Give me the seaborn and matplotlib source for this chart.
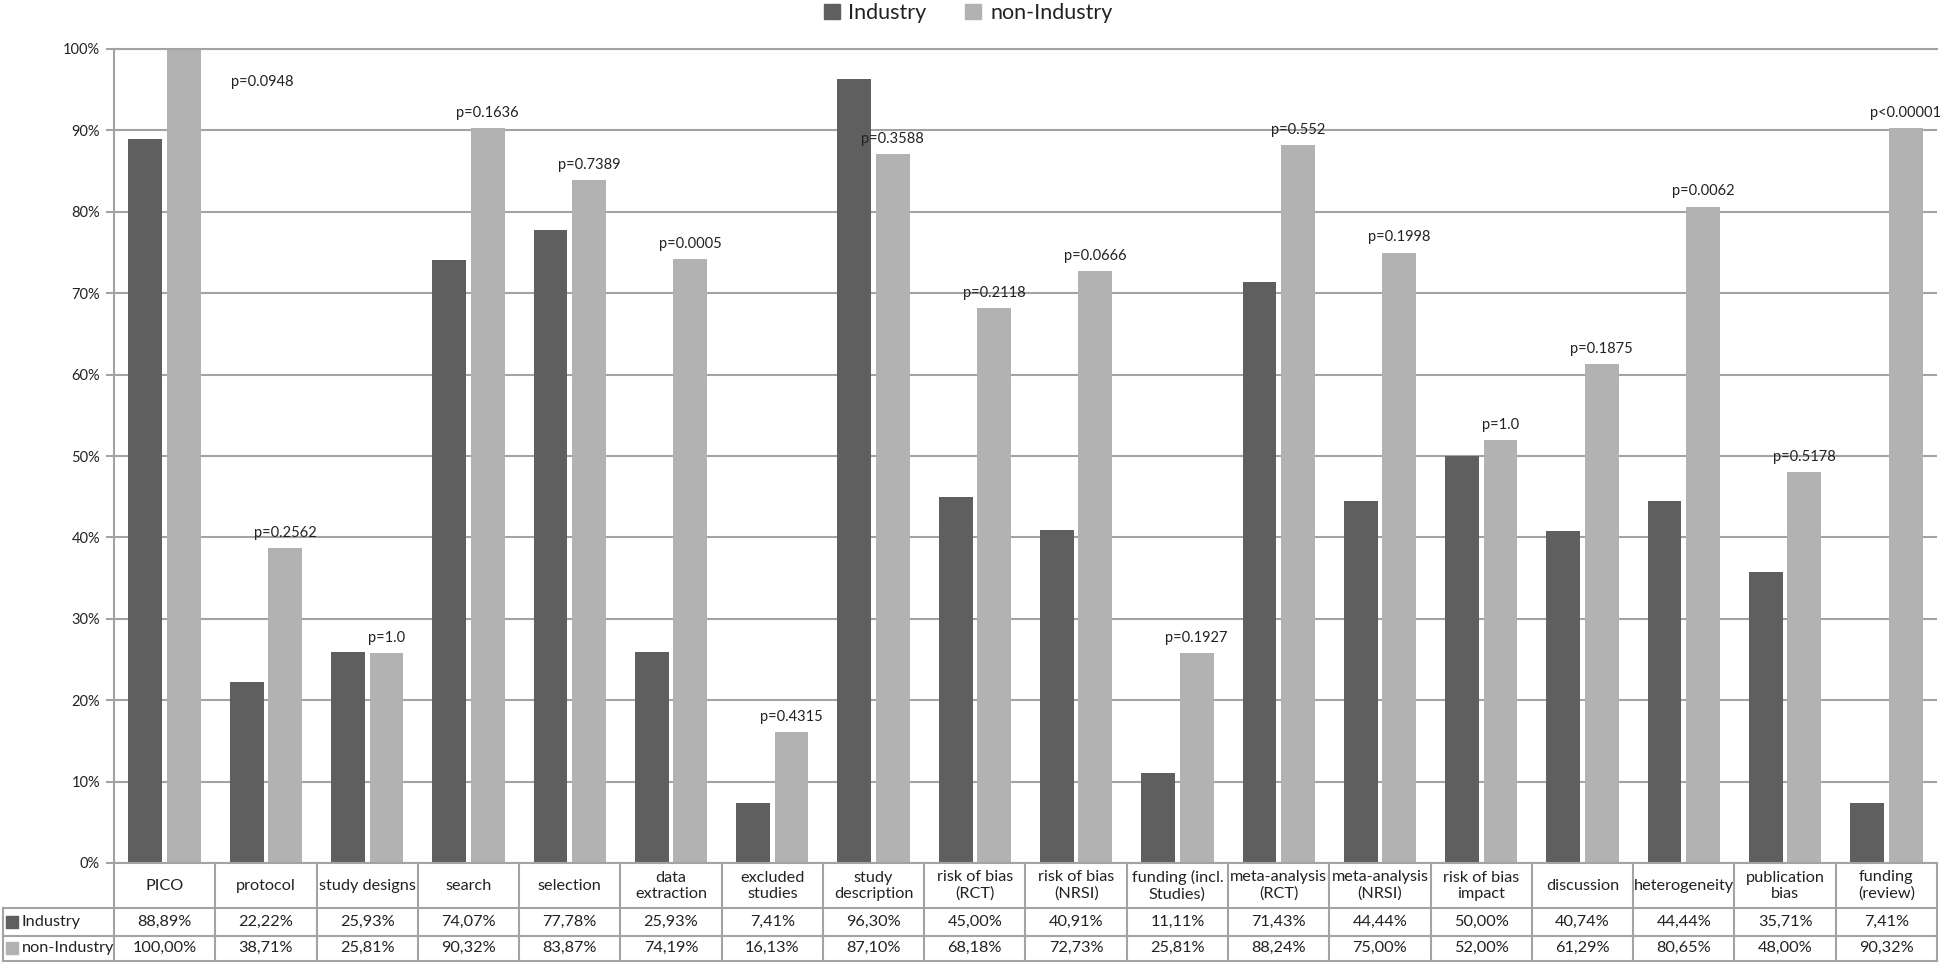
import numpy as np
import matplotlib
matplotlib.use("Agg")
import matplotlib.pyplot as plt
import pandas as pd
import seaborn as sns

categories = ["PICO", "protocol", "study designs", "search", "selection",
              "data\nextraction", "excluded\nstudies", "study\ndescription",
              "risk of bias\n(RCT)", "risk of bias\n(NRSI)", "funding (incl.\nStudies)",
              "meta-analysis\n(RCT)", "meta-analysis\n(NRSI)", "risk of bias\nimpact",
              "discussion", "heterogeneity", "publication\nbias", "funding\n(review)"]
industry = [88.89, 22.22, 25.93, 74.07, 77.78, 25.93, 7.41, 96.30, 45.00,
            40.91, 11.11, 71.43, 44.44, 50.00, 40.74, 44.44, 35.71, 7.41]
non_industry = [100.00, 38.71, 25.81, 90.32, 83.87, 74.19, 16.13, 87.10, 68.18,
                72.73, 25.81, 88.24, 75.00, 52.00, 61.29, 80.65, 48.00, 90.32]
p_values = ["p=0.0948", "p=0.2562", "p=1.0", "p=0.1636", "p=0.7389", "p=0.0005",
            "p=0.4315", "p=0.3588", "p=0.2118", "p=0.0666", "p=0.1927", "p=0.552",
            "p=0.1998", "p=1.0", "p=0.1875", "p=0.0062", "p=0.5178", "p<0.00001"]
groups = ["Industry", "non-Industry"]

dark = "#5f5f5f"
light = "#b2b2b2"
grid_c = "#a3a3a3"
txt_c = "#222222"

sns.set_style("white")
plt.rcParams['font.family'] = ['Lato', 'DejaVu Sans']

df = pd.DataFrame({
    "category": categories * 2,
    "value": industry + non_industry,
    "group": [groups[0]] * len(categories) + [groups[1]] * len(categories),
})

W, H = 1943, 964
fig = plt.figure(figsize=(W / 100, H / 100), dpi=100)
ax = fig.add_axes([114 / W, 1 - 863 / H, (1937 - 114) / W, (863 - 49) / H])
ax_t = fig.add_axes([114 / W, 1 - 961 / H, (1937 - 114) / W, (961 - 863) / H])

sns.barplot(data=df, x="category", y="value", hue="group", order=categories,
            hue_order=groups, palette=[dark, light], width=0.76, gap=0.12,
            errorbar=None, ax=ax, linewidth=0, legend=False)

ax.set_xlim(-0.5, len(categories) - 0.5)
ax.set_ylim(0, 100)
ax.set_yticks(np.arange(0, 101, 10))
ax.set_yticklabels([f"{v}%" for v in range(0, 101, 10)])
ax.set_xticks([])
ax.set_xlabel("")
ax.set_ylabel("")
ax.yaxis.grid(True, color=grid_c, lw=1.5)
ax.set_axisbelow(True)
for s in ["right", "bottom"]:
    ax.spines[s].set_visible(False)
for s in ["left", "top"]:
    ax.spines[s].set_color(grid_c)
    ax.spines[s].set_linewidth(1.5)
ax.tick_params(axis="y", direction="out", length=6, width=1.5, color=grid_c,
               labelsize=10.5, labelcolor=txt_c, left=True, pad=4)

# p-value labels above the non-Industry bars
for i, p in enumerate(p_values):
    if i == 0:
        ax.text(0.96, 95.9, p, ha="center", va="center", fontsize=10.5, color=txt_c)
    else:
        ax.text(i + 0.19, non_industry[i] + 1.0, p, ha="center", va="bottom",
                fontsize=10.5, color=txt_c)

# legend at top
handles = [plt.Rectangle((0, 0), 1, 1, color=c) for c in [dark, light]]
fig.legend(handles, groups, loc="center", bbox_to_anchor=(968 / W, 1 - 13 / H),
           ncol=2, frameon=False, fontsize=15.5, handlelength=0.75, handleheight=0.75,
           handletextpad=0.4, columnspacing=1.8, labelcolor=txt_c)

# data table below the plot
n = len(categories)
ax_t.set_xlim(-0.5, n - 0.5)
ax_t.set_ylim(97, 0)
ax_t.axis("off")
x_left = -0.5 - 111 / 101.28
lk = dict(color=grid_c, lw=1.5, clip_on=False, solid_capstyle="projecting")
ax_t.plot([-0.5, n - 0.5], [0, 0], **lk)
for yy in [45, 72, 97]:
    ax_t.plot([x_left, n - 0.5], [yy, yy], **lk)
for k in range(n + 1):
    ax_t.plot([k - 0.5, k - 0.5], [0, 97], **lk)
ax_t.plot([x_left, x_left], [45, 97], **lk)

for i, c in enumerate(categories):
    ax_t.text(i, 22.5, c, ha="center", va="center", fontsize=11.7, color=txt_c,
              linespacing=1.2)
    ax_t.text(i, 58.5, f"{industry[i]:.2f}".replace(".", ",") + "%", ha="center",
              va="center", fontsize=11.7, color=txt_c)
    ax_t.text(i, 84.5, f"{non_industry[i]:.2f}".replace(".", ",") + "%", ha="center",
              va="center", fontsize=11.7, color=txt_c)

for yy, g, c in [(58.5, groups[0], dark), (84.5, groups[1], light)]:
    ax_t.scatter([x_left + 0.09], [yy], marker="s", s=70, color=c, clip_on=False)
    ax_t.text(x_left + 0.185, yy, g, ha="left", va="center", fontsize=11.7, color=txt_c)

plt.savefig("out.png", dpi=100, facecolor="w")
